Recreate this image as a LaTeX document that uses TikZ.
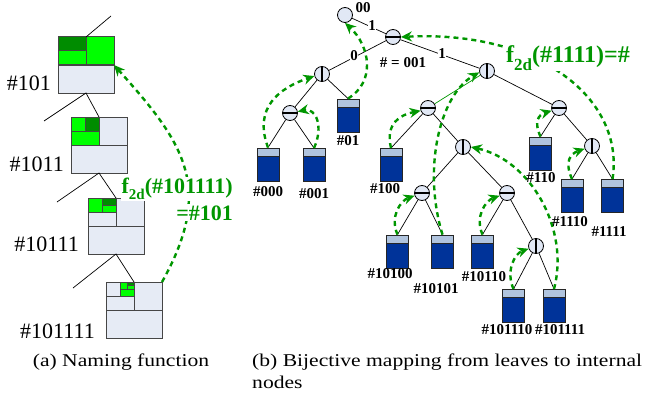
\documentclass[tikz,border=0pt]{standalone}
\usepackage{fontspec}
\setmainfont{Liberation Serif}
\newfontfamily\capfont[FakeStretch=1.2]{Liberation Serif}
\usetikzlibrary{arrows.meta,calc}

\definecolor{cellbg}{RGB}{230,235,245}
\definecolor{cellline}{RGB}{70,70,70}
\definecolor{lime}{RGB}{0,255,0}
\definecolor{darkg}{RGB}{0,140,0}
\definecolor{mapg}{RGB}{0,150,0}
\definecolor{navy}{RGB}{0,51,153}
\definecolor{band}{RGB}{176,196,222}
\definecolor{inodebg}{RGB}{225,232,245}

% f with a lowered "2d" index, in the current bold face
\newcommand{\ftwod}[1]{f\raisebox{-0.3em}{\fontsize{#1}{#1}\selectfont 2d}}

\begin{document}
\begin{tikzpicture}[x=1pt,y=-1pt,
  cell/.style={draw=cellline,line width=1pt},
  treeedge/.style={draw=black,line width=0.7pt},
  inode/.style={circle,draw=black,fill=inodebg,minimum size=15pt,inner sep=0pt,line width=0.8pt},
  hbar/.style={inode,path picture={\draw[line width=1.5pt] (path picture bounding box.west) -- (path picture bounding box.east);}},
  vbar/.style={inode,path picture={\draw[line width=1.5pt] (path picture bounding box.north) -- (path picture bounding box.south);}},
  leaf/.style={rectangle,draw=black!85,fill=navy,minimum width=22pt,minimum height=33pt,inner sep=0pt,line width=0.9pt,
    path picture={\fill[band] (path picture bounding box.north west) rectangle ([yshift=-8pt]path picture bounding box.north east);
      \draw[black!85,line width=0.9pt] ([yshift=-8pt]path picture bounding box.north west) -- ([yshift=-8pt]path picture bounding box.north east);}},
  leaflabel/.style={font=\fontsize{15}{15}\selectfont\bfseries,inner sep=0pt},
  edgelabel/.style={font=\fontsize{15}{15}\selectfont\bfseries,inner sep=0.6pt,fill=white},
  boxlabel/.style={font=\fontsize{22}{22}\selectfont,inner sep=0pt,anchor=base east},
  maptext/.style={text=mapg,fill=white,inner sep=1pt,font=\bfseries},
  caption/.style={font=\capfont\fontsize{18}{18}\selectfont,inner sep=0pt},
  maparrow/.style={draw=mapg,line width=2.4pt,dash pattern=on 5pt off 4pt,-{Stealth[length=11pt,width=10pt]}},
]
\useasboundingbox (0,0) rectangle (658,396);

% ---------------- (a) naming function: nested k-d cells ----------------
% cell #101
\fill[cellbg] (58,37) rectangle (114,93);
\fill[lime] (58,37) rectangle (114,65);
\fill[darkg] (58,37) rectangle (86,51);
\draw[cell] (58,65) -- (114,65) (86,37) -- (86,65) (58,51) -- (86,51);
\draw[cell] (58,37) rectangle (114,93);
% cell #1011
\fill[cellbg] (71,117) rectangle (127,173);
\fill[lime] (71,117) rectangle (99,145);
\fill[darkg] (85,117) rectangle (99,131);
\draw[cell] (71,145) -- (127,145) (99,117) -- (99,145) (71,131) -- (99,131) (85,117) -- (85,131);
\draw[cell] (71,117) rectangle (127,173);
% cell #10111
\fill[cellbg] (88,198) rectangle (144,254);
\fill[lime] (88,198) rectangle (116,212);
\fill[darkg] (102,198) rectangle (116,205);
\draw[cell] (88,226) -- (144,226) (116,198) -- (116,226) (88,212) -- (116,212) (102,198) -- (102,212) (102,205) -- (116,205);
\draw[cell] (88,198) rectangle (144,254);
% cell #101111
\fill[cellbg] (106,282) rectangle (162,338);
\fill[lime] (120,282) rectangle (134,296);
\fill[darkg] (127,282) rectangle (134,285.5);
\draw[cell] (106,310) -- (162,310) (134,282) -- (134,310) (106,296) -- (134,296) (120,282) -- (120,296)
  (120,289) -- (134,289) (127,282) -- (127,289) (127,285.5) -- (134,285.5);
\draw[cell] (106,282) rectangle (162,338);

% attachment points of the cells in the trie
\coordinate (c1top) at (86,37);   \coordinate (c1up) at (111,16);
\coordinate (c1bot) at (86,93);   \coordinate (c1left) at (44,121);
\coordinate (c2top) at (99,117);  \coordinate (c2bot) at (99,173);
\coordinate (c2left) at (57,202); \coordinate (c3top) at (116,198);
\coordinate (c3bot) at (116,254); \coordinate (c3left) at (73,288);
\coordinate (c4top) at (134,282);
\coordinate (c1east) at (114,65); \coordinate (c4ne) at (162,282);

\draw[treeedge] (c1top) -- (c1up);
\draw[treeedge] (c1left) -- (c1bot) -- (c2top);
\draw[treeedge] (c2left) -- (c2bot) -- (c3top);
\draw[treeedge] (c3left) -- (c3bot) -- (c4top);

\node[boxlabel] (n101) at (51,90) {\#101};
\node[boxlabel] (n1011) at (64,171) {\#1011};
\node[boxlabel] (n10111) at (79,251) {\#10111};
\node[boxlabel] (n101111) at (95,338) {\#101111};

\draw[maparrow] (c4ne) .. controls (216,186) and (182,141) .. (c1east);
\node[maptext,anchor=base east,font=\fontsize{22}{22}\selectfont\bfseries] (fa1) at (234,193) {\ftwod{15}(\#101111)};
\node[maptext,anchor=base east,font=\fontsize{22}{22}\selectfont\bfseries] (fa2) at (234,220) {=\#101};

\node[caption,anchor=base] (capa) at (121,366.5) {(a) Naming function};

% ---------------- (b) bijective mapping on the binary trie ----------------
\node[inode] (root) at (345,15) {};
\node[hbar] (nA) at (393,37) {};
\node[vbar] (nB) at (322,74) {};
\node[hbar] (nD) at (290,113) {};
\node[vbar] (nC) at (487,71) {};
\node[hbar] (nE) at (428,108) {};
\node[hbar] (nF) at (559,108) {};
\node[vbar] (nG) at (463,147) {};
\node[hbar] (nH) at (422,193) {};
\node[hbar] (nI) at (507,193) {};
\node[vbar] (nJ) at (536,246) {};
\node[vbar] (nK) at (592,146) {};

\node[leaf] (L000) at (268,164.5) {};
\node[leaf] (L001) at (314,165) {};
\node[leaf] (L01) at (348,115.5) {};
\node[leaf] (L100) at (391,165) {};
\node[leaf] (L10100) at (397.5,251.5) {};
\node[leaf] (L10101) at (442.5,251.5) {};
\node[leaf] (L10110) at (482.5,251.5) {};
\node[leaf] (L101110) at (513.5,306) {};
\node[leaf] (L101111) at (554,306) {};
\node[leaf] (L110) at (540.5,153.5) {};
\node[leaf] (L1110) at (572,196) {};
\node[leaf] (L1111) at (612.5,196) {};

\draw[treeedge] (root) -- (nA);
\draw[treeedge] (nA) -- (nB);
\draw[treeedge] (nA) -- (nC);
\draw[treeedge] (nB) -- (nD);
\draw[treeedge] (nB) -- (L01.north);
\draw[treeedge] (nD) -- (L000.north);
\draw[treeedge] (nD) -- (L001.north);
\draw[draw=mapg,line width=0.7pt] (nC) -- (nE);
\draw[treeedge] (nC) -- (nF);
\draw[treeedge] (nE) -- (L100.north);
\draw[treeedge] (nE) -- (nG);
\draw[treeedge] (nG) -- (nH);
\draw[treeedge] (nG) -- (nI);
\draw[treeedge] (nH) -- (L10100.north);
\draw[treeedge] (nH) -- (L10101.north);
\draw[treeedge] (nI) -- (L10110.north);
\draw[treeedge] (nI) -- (nJ);
\draw[treeedge] (nJ) -- (L101110.north);
\draw[treeedge] (nJ) -- (L101111.north);
\draw[treeedge] (nF) -- (L110.north);
\draw[treeedge] (nF) -- (nK);
\draw[treeedge] (nK) -- (L1110.north);
\draw[treeedge] (nK) -- (L1111.north);

% leaf -> internal node mapping
\draw[maparrow] (L01.north) .. controls +(28,-17) and +(25,23) .. (root.south);
\draw[maparrow] (L000.north) .. controls +(-15,-40) and +(-35,12) .. (nB.195);
\draw[maparrow] (L001.north) .. controls +(10,-22) and +(18,-4) .. (nD.10);
\draw[maparrow] (L100.north) .. controls +(-6,-25) and +(-20,4) .. (nE.200);
\draw[maparrow] (L10100.north) .. controls +(-8,-18) and +(-14,5) .. (nH.200);
\draw[maparrow] (L10110.north) .. controls +(-8,-18) and +(-14,5) .. (nI.200);
\draw[maparrow] (L101110.north) .. controls +(-8,-18) and +(-14,5) .. (nJ.200);
\draw[maparrow] (L110.north) .. controls +(-7,-15) and +(-13,4) .. (nF.200);
\draw[maparrow] (L1110.north) .. controls +(-8,-18) and +(-14,5) .. (nK.200);
\draw[maparrow] (L10101.north) .. controls +(-20,-65) and +(-40,23) .. (nC.190);
\draw[maparrow] (L101111.north) .. controls +(16,-60) and +(59.5,13) .. (nG.east);
\draw[maparrow] (L1111.north) .. controls +(12.5,-79) and +(139.5,-7) .. (nA.east);

% edge labels and names
\node[edgelabel] (e1) at (372,26) {1};
\node[edgelabel] (e0) at (354,56) {0};
\node[edgelabel] (e2) at (442,54) {1};
\node[leaflabel] (lroot) at (363,8) {00};
\node[leaflabel] (lA) at (403,63) {\# = 001};

\node[leaflabel] (t000) at (268,192) {\#000};
\node[leaflabel] (t001) at (314,194) {\#001};
\node[leaflabel] (t01) at (348,141) {\#01};
\node[leaflabel] (t100) at (385,189) {\#100};
\node[leaflabel] (t10100) at (390,274) {\#10100};
\node[leaflabel] (t10101) at (436,289) {\#10101};
\node[leaflabel] (t10110) at (484,277) {\#10110};
\node[leaflabel] (t101110) at (507,330) {\#101110};
\node[leaflabel] (t101111) at (560,330) {\#101111};
\node[leaflabel] (t110) at (541,178) {\#110};
\node[leaflabel] (t1110) at (570,222) {\#1110};
\node[leaflabel] (t1111) at (609,232) {\#1111};

\node[maptext,anchor=base west,font=\fontsize{24}{24}\selectfont\bfseries] (fb) at (505,63) {\ftwod{17}(\#1111)=\#};

\node[caption,anchor=base west] (capb1) at (252,366.5) {(b) Bijective mapping from leaves to internal};
\node[caption,anchor=base west] (capb2) at (252,388) {nodes};
\end{tikzpicture}
\end{document}
